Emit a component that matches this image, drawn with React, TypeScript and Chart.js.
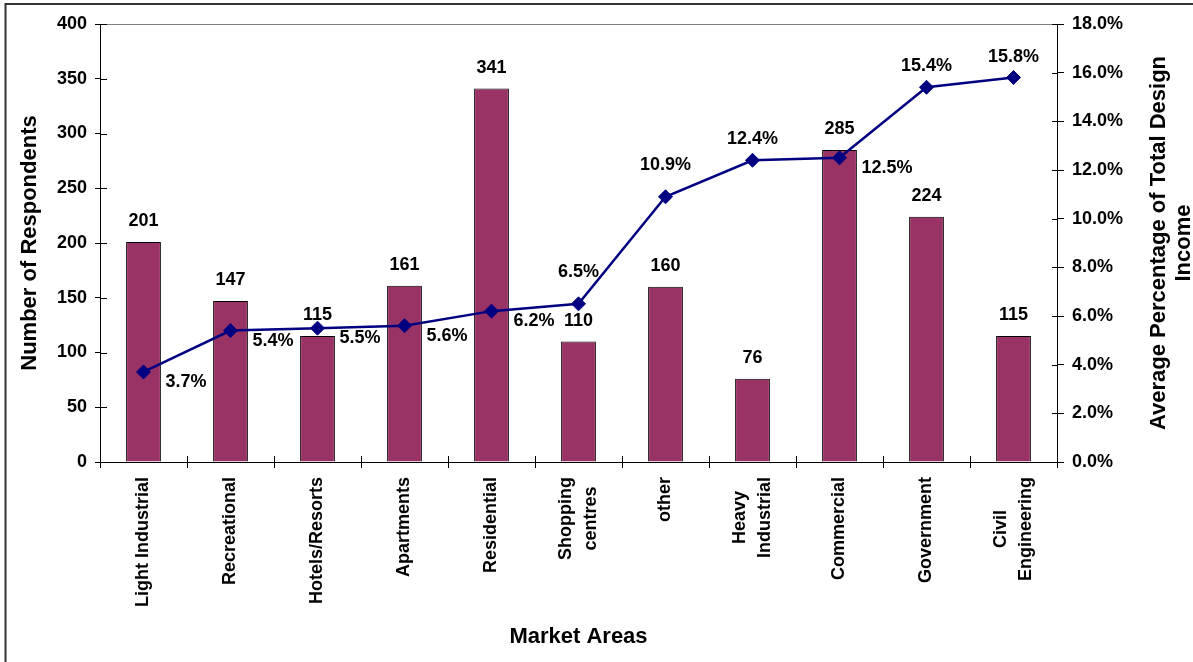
import React, { useEffect, useRef } from 'react';
import { Chart, registerables } from 'chart.js';

Chart.register(...registerables);

const categories: string[][] = [
  ['Light Industrial'],
  ['Recreational'],
  ['Hotels/Resorts'],
  ['Apartments'],
  ['Residential'],
  ['Shopping', 'centres'],
  ['other'],
  ['Heavy', 'Industrial'],
  ['Commercial'],
  ['Government'],
  ['Civil', 'Engineering'],
];
const respondents = [201, 147, 115, 161, 341, 110, 160, 76, 285, 224, 115];
const incomePct = [3.7, 5.4, 5.5, 5.6, 6.2, 6.5, 10.9, 12.4, 12.5, 15.4, 15.8];
const pctLabelPlacement = ['right', 'right', 'right', 'right', 'right', 'high', 'high', 'above', 'right', 'above', 'above'];

const leftTitle = 'Number of Respondents';
const rightTitle = ['Average Percentage of Total Design', 'Income'];
const bottomTitle = 'Market Areas';

const FONT = '"Liberation Sans", Arial, Helvetica, sans-serif';

const decorPlugin = {
  id: 'decor',
  afterDatasetsDraw(chart: any) {
    const ctx = chart.ctx as CanvasRenderingContext2D;
    const area = chart.chartArea;
    const xs = chart.scales.x;
    const ys = chart.scales.y;
    const y1 = chart.scales.y1;
    ctx.save();
    // inner parts of crossing tick marks
    ctx.strokeStyle = '#000';
    ctx.lineWidth = 1;
    ctx.beginPath();
    ys.ticks.forEach((t: any) => {
      const p = Math.round(ys.getPixelForValue(t.value)) + 0.5;
      ctx.moveTo(area.left, p);
      ctx.lineTo(area.left + 7, p);
    });
    y1.ticks.forEach((t: any) => {
      const p = Math.round(y1.getPixelForValue(t.value)) + 0.5;
      ctx.moveTo(area.right - 5, p);
      ctx.lineTo(area.right, p);
    });
    for (let i = 0; i <= categories.length; i++) {
      const p = Math.round(xs.getPixelForValue(i - 0.5)) + 0.5;
      ctx.moveTo(p, area.bottom);
      ctx.lineTo(p, area.bottom - 6);
    }
    ctx.stroke();

    ctx.fillStyle = '#000';
    ctx.font = `bold 18px ${FONT}`;
    ctx.textBaseline = 'middle';

    // bar value labels
    const barMeta = chart.getDatasetMeta(1);
    barMeta.data.forEach((el: any, i: number) => {
      ctx.textAlign = 'center';
      ctx.fillText(String(respondents[i]), el.x, el.y - 21);
    });

    // line value labels
    const lineMeta = chart.getDatasetMeta(0);
    lineMeta.data.forEach((el: any, i: number) => {
      const txt = incomePct[i].toFixed(1) + '%';
      const place = pctLabelPlacement[i];
      if (place === 'right') {
        ctx.textAlign = 'left';
        ctx.fillText(txt, el.x + 22, el.y + 10);
      } else if (place === 'high') {
        ctx.textAlign = 'center';
        ctx.fillText(txt, el.x, el.y - 32);
      } else {
        ctx.textAlign = 'center';
        ctx.fillText(txt, el.x, el.y - 21);
      }
    });

    // category labels (rotated, lines centred on each other)
    const labelTop = area.bottom + 15;
    const lh = 25;
    categories.forEach((lines, i) => {
      const cx = xs.getPixelForValue(i);
      const maxW = Math.max(...lines.map((l) => ctx.measureText(l).width));
      lines.forEach((line, j) => {
        const lx = cx + (j - (lines.length - 1) / 2) * lh;
        ctx.save();
        ctx.translate(lx, labelTop + maxW / 2);
        ctx.rotate(-Math.PI / 2);
        ctx.textAlign = 'center';
        ctx.fillText(line, 0, 0);
        ctx.restore();
      });
    });

    // axis titles
    ctx.font = `bold 22px ${FONT}`;
    ctx.textAlign = 'center';
    const midY = (area.top + area.bottom) / 2;
    ctx.save();
    ctx.translate(30, midY);
    ctx.rotate(-Math.PI / 2);
    ctx.fillText(leftTitle, 0, 0);
    ctx.restore();
    rightTitle.forEach((line, j) => {
      ctx.save();
      ctx.translate(1159 + j * 25, midY);
      ctx.rotate(-Math.PI / 2);
      ctx.fillText(line, 0, 0);
      ctx.restore();
    });
    ctx.fillText(bottomTitle, (area.left + area.right) / 2, 637);

    // outer frame
    ctx.strokeStyle = '#333';
    ctx.lineWidth = 2;
    ctx.beginPath();
    ctx.moveTo(5.5, chart.height);
    ctx.lineTo(5.5, 4);
    ctx.lineTo(chart.width, 4);
    ctx.stroke();
    ctx.restore();
  },
};

export default function App() {
  const ref = useRef<HTMLCanvasElement | null>(null);
  useEffect(() => {
    if (!ref.current) return;
    const tickFont = { family: FONT, size: 18, weight: 'bold' as const };
    const chart = new Chart(ref.current, {
      type: 'bar',
      data: {
        labels: categories.map((c) => c.join(' ')),
        datasets: [
          {
            type: 'line',
            label: 'Average Percentage of Total Design Income',
            data: incomePct,
            yAxisID: 'y1',
            borderColor: '#000080',
            backgroundColor: '#000080',
            borderWidth: 2.5,
            pointStyle: 'rectRot',
            pointRadius: 7,
            pointBackgroundColor: '#000080',
            pointBorderColor: '#000080',
            pointBorderWidth: 1,
            tension: 0,
            order: 0,
          } as any,
          {
            type: 'bar',
            label: 'Number of Respondents',
            data: respondents,
            yAxisID: 'y',
            backgroundColor: '#993366',
            borderColor: '#000000',
            borderWidth: 1,
            barPercentage: 0.4,
            categoryPercentage: 1,
            order: 1,
          } as any,
        ],
      },
      options: {
        responsive: false,
        animation: false,
        layout: { padding: { top: 24, left: 0, right: 0, bottom: 0 } },
        plugins: { legend: { display: false }, tooltip: { enabled: false } },
        scales: {
          x: {
            offset: true,
            grid: { offset: true, drawOnChartArea: false, tickLength: 6, color: '#000', tickColor: '#000' },
            border: { color: '#000', width: 1 },
            ticks: { display: false },
            afterFit: (s: any) => {
              s.height = 200;
            },
          },
          y: {
            position: 'left',
            min: 0,
            max: 400,
            ticks: { stepSize: 50, color: '#000', font: tickFont, padding: 8 },
            grid: {
              drawOnChartArea: true,
              color: (c: any) => (c.tick && c.tick.value === 400 ? '#808080' : 'rgba(0,0,0,0)'),
              tickColor: '#000',
              tickLength: 5,
            },
            border: { color: '#000', width: 1 },
            afterFit: (s: any) => {
              s.width = 100;
            },
          },
          y1: {
            position: 'right',
            min: 0,
            max: 18,
            ticks: {
              stepSize: 2,
              color: '#000',
              font: tickFont,
              padding: 8,
              callback: (v: any) => Number(v).toFixed(1) + '%',
            },
            grid: { drawOnChartArea: false, tickLength: 7, color: '#000', tickColor: '#000' },
            border: { color: '#000', width: 1 },
            afterFit: (s: any) => {
              s.width = 136;
            },
          },
        },
      },
      plugins: [decorPlugin],
    });
    return () => chart.destroy();
  }, []);
  return (
    <div style={{ position: 'fixed', left: 0, top: 0, width: 1193, height: 662, background: '#fff' }}>
      <canvas ref={ref} width={1193} height={662} style={{ display: 'block' }} />
    </div>
  );
}
